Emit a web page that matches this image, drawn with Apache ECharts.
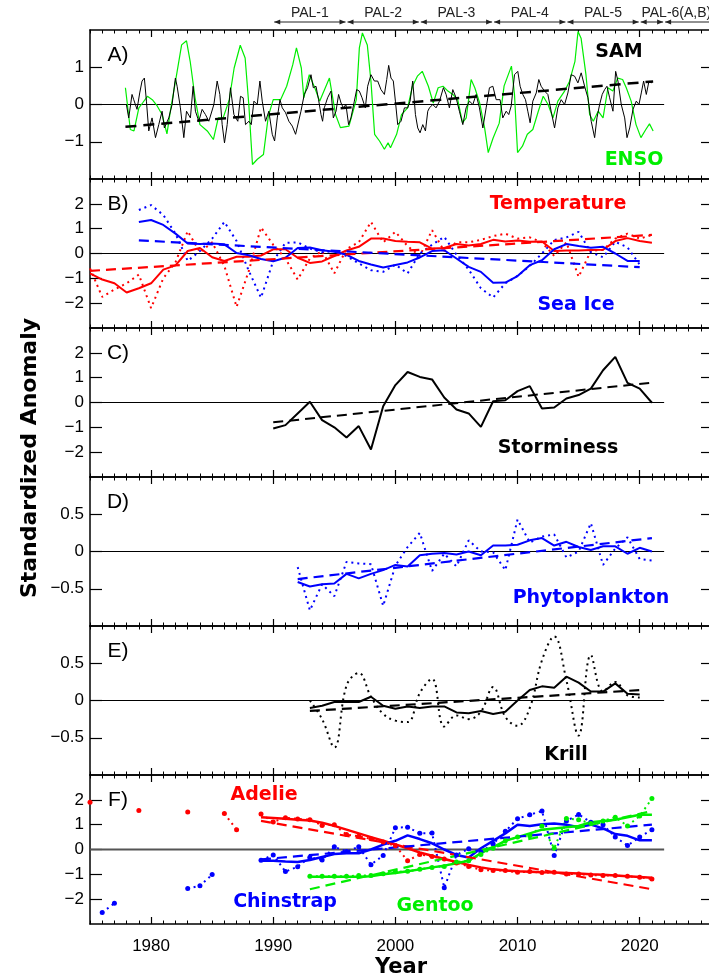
<!DOCTYPE html>
<html lang="en">
<head>
<meta charset="UTF-8">
<title>Standardized anomalies, Palmer LTER</title>
<style>
  html, body { margin: 0; padding: 0; overflow: hidden; background: #fff; }
  #main { width: 720px; height: 980px; }
</style>
</head>
<body>
<div id="main"></div>
<script src="https://cdn.jsdelivr.net/npm/echarts@6.0.0/dist/echarts.min.js"></script>
<script>
// ---- axis data ----
var yearMin = 1975, yearMax = 2026, zeroEnd = 2022;
var decadeTicks = [1980, 1990, 2000, 2010, 2020];
var ticksA = [-1, 0, 1];
var ticksBig = [-2, -1, 0, 1, 2];
var ticksSmall = [-0.5, 0, 0.5];
var panelRanges = [2, 3, 3, 1, 1, 3];
var panelTicks = [ticksA, ticksBig, ticksBig, ticksSmall, ticksSmall, ticksBig];

// PAL grant periods
var palArrows = [[1990, 1996], [1996, 2002], [2002, 2008], [2008, 2014], [2014, 2020], [2020, 2022], [2022, 2027]];
var palLabels = [['PAL-1', 1993], ['PAL-2', 1999], ['PAL-3', 2005], ['PAL-4', 2011], ['PAL-5', 2017], ['PAL-6(A,B)', 2023]];

// ---- A) SAM and ENSO (monthly-ish, [year, value]) ----
var samSeries = [
  [1977.98,0],[1978.17,-0.36],[1978.44,0.27],[1978.58,0.13],[1978.85,-0.13],[1979.07,0.31],[1979.26,0.63],[1979.45,0.71],
  [1979.62,0.09],[1979.81,-0.71],[1980.08,-0.36],[1980.36,-0.89],[1980.63,-0.54],[1980.9,-0.18],[1981.09,-0.63],[1981.45,-0.36],
  [1981.72,0],[1981.99,0.71],[1982.13,0.49],[1982.4,-0.09],[1982.68,-0.89],[1982.9,-0.18],[1983.22,-0.36],[1983.44,0.49],
  [1983.63,-0.18],[1983.91,-0.45],[1984.18,-0.13],[1984.45,-0.27],[1984.73,-0.45],[1985.14,0],[1985.41,0.63],[1985.63,0.27],
  [1985.82,-0.54],[1986.01,-1.03],[1986.23,-0.54],[1986.5,0.45],[1986.78,-0.27],[1987.1,-0.45],[1987.32,0.22],[1987.54,0.18],
  [1987.73,-0.54],[1988.01,-0.45],[1988.2,-0.54],[1988.42,0.09],[1988.69,0],[1988.91,0.63],[1989.1,0.09],[1989.37,-0.45],
  [1989.64,-0.18],[1989.92,-0.8],[1990.11,-0.98],[1990.33,-0.36],[1990.55,0.13],[1990.74,-0.09],[1991.01,-0.22],[1991.28,-0.45],
  [1991.56,-0.58],[1991.83,-0.8],[1992.27,-0.18],[1992.54,0.27],[1992.81,0.45],[1993.09,0.8],[1993.28,0.45],[1993.5,0.49],
  [1993.71,0.13],[1993.91,-0.27],[1994.04,-0.45],[1994.18,-0.09],[1994.45,0.18],[1994.73,0.36],[1994.92,-0.36],[1995.14,-0.18],
  [1995.35,0.27],[1995.55,0.04],[1995.74,-0.09],[1995.95,0],[1996.17,-0.54],[1996.36,-0.36],[1996.64,0.09],[1996.83,0.4],
  [1997.05,0.36],[1997.27,0.18],[1997.54,-0.09],[1997.73,0.49],[1998,0.8],[1998.28,0.63],[1998.55,0.63],[1998.82,0.4],
  [1999.1,0.27],[1999.29,0.67],[1999.45,1.05],[1999.64,0.71],[1999.83,0.63],[2000,0.09],[2000.19,-0.54],[2000.46,-0.45],
  [2000.74,-0.09],[2001.01,-0.09],[2001.2,0.09],[2001.42,0.63],[2001.64,-0.27],[2001.83,-0.63],[2002.02,-0.76],[2002.24,-0.54],
  [2002.46,-0.71],[2002.65,-0.18],[2002.79,-0.09],[2003.06,0],[2003.33,-0.09],[2003.61,0.09],[2003.93,0.45],[2004.15,0.27],
  [2004.42,-0.09],[2004.7,0.4],[2004.97,0.18],[2005.24,-0.18],[2005.52,-0.54],[2005.79,-0.09],[2006.06,0.09],[2006.34,0],
  [2006.61,0.27],[2006.88,-0.09],[2007.16,-0.63],[2007.43,-0.09],[2007.7,0.45],[2007.98,0.49],[2008.25,0.13],[2008.57,0.13],
  [2008.79,-0.36],[2009.07,-0.18],[2009.28,-0.27],[2009.48,-0.04],[2009.75,0.8],[2010.02,0.89],[2010.21,0.49],[2010.43,0.27],
  [2010.65,0.13],[2010.84,-0.18],[2011.03,-0.49],[2011.25,0.09],[2011.53,0.31],[2011.74,0.67],[2011.93,0.49],[2012.21,0.36],
  [2012.48,0.27],[2012.75,-0.18],[2013.03,-0.63],[2013.3,-0.09],[2013.57,0.13],[2013.85,0],[2014.12,0.31],[2014.39,0.8],
  [2014.67,0.76],[2014.94,0.58],[2015.21,0.85],[2015.49,0.49],[2015.76,0.18],[2016.03,-0.45],[2016.31,-0.89],[2016.5,-0.36],
  [2016.72,0],[2016.93,0.27],[2017.13,0.4],[2017.32,0.49],[2017.54,0.18],[2017.81,-0.18],[2018.03,0.89],[2018.22,0.63],
  [2018.49,0],[2018.77,-0.36],[2018.96,-0.89],[2019.18,-0.63],[2019.45,-0.13],[2019.72,0.09],[2019.94,0],[2020.13,0.31],
  [2020.32,0.63],[2020.54,0.27],[2020.76,0.63],[2020.95,0.58],[2021.08,0.63]
];
var samTrend = [[1977.9, -0.6], [2021.1, 0.62]];
var ensoSeries = [
  [1977.9,0.45],[1978.3,-0.67],[1978.6,-0.71],[1979.0,-0.09],[1979.3,0.04],[1979.7,0.22],[1980.1,0.13],[1980.5,-0.04],
  [1980.9,-0.27],[1981.3,-0.79],[1981.6,-0.13],[1982.0,0.63],[1982.5,1.6],[1982.9,1.71],[1983.2,1.16],[1983.6,0.18],
  [1984.0,-0.54],[1984.6,-0.71],[1985.1,-0.94],[1985.5,-0.36],[1985.9,-0.36],[1986.4,0.13],[1986.8,0.98],[1987.3,1.59],
  [1987.7,1.25],[1988.0,0.0],[1988.3,-1.61],[1988.7,-1.47],[1989.2,-1.34],[1989.6,-0.31],[1990.0,0.13],[1990.6,0.13],
  [1991.1,0.49],[1991.6,1.07],[1991.9,1.52],[1992.3,0.98],[1992.5,0.18],[1992.95,0.8],[1993.4,0.45],[1993.8,0.09],
  [1994.6,0.71],[1995.1,-0.27],[1995.5,-0.62],[1996.2,-0.58],[1996.8,0.13],[1997.05,1.52],[1997.3,1.92],[1997.7,1.6],
  [1998.0,0.62],[1998.3,-0.8],[1998.7,-0.98],[1999.1,-1.2],[1999.4,-1.03],[1999.6,-1.16],[2000.1,-0.8],[2000.5,-0.27],
  [2001.0,-0.09],[2001.4,0.49],[2001.8,0.76],[2002.2,0.89],[2002.7,0.49],[2003.1,0.04],[2003.5,0.45],[2003.9,0.49],
  [2004.3,0.36],[2004.7,0.27],[2005.1,0.13],[2005.5,-0.49],[2005.8,-0.36],[2006.2,0.67],[2006.5,0.45],[2006.9,0.04],
  [2007.3,-0.62],[2007.6,-1.29],[2008.0,-0.9],[2008.5,-0.5],[2008.9,0.5],[2009.5,1.03],[2009.75,0.27],[2010.0,-1.29],
  [2010.4,-1.12],[2010.8,-0.8],[2011.25,-0.67],[2011.7,-0.18],[2012.1,0.22],[2012.5,0.0],[2012.9,-0.36],[2013.3,0.09],
  [2013.85,0.36],[2014.25,0.62],[2014.7,1.16],[2014.95,1.96],[2015.2,1.78],[2015.6,0.8],[2015.9,-0.27],[2016.2,-0.45],
  [2016.6,-0.18],[2017.0,-0.36],[2017.4,0.45],[2017.8,0.36],[2018.2,0.71],[2018.6,0.67],[2018.9,0.45],[2019.3,0.09],
  [2019.7,-0.54],[2020.1,-0.89],[2020.5,-0.67],[2020.8,-0.52],[2021.1,-0.71]
];

// ---- B) Temperature and Sea Ice (annual) ----
var tempStart = 1975;
var tempRaw = [-0.6,-1.75,-1.45,-1.2,-0.85,-2.2,-1.0,-0.35,0.9,0.05,0.45,-0.5,-2.15,-0.7,1.05,0.35,-0.2,-1.05,-0.2,0.1,
  -0.8,0.18,0.45,1.27,0.45,0.87,0.3,-0.1,0.94,0.1,0.45,0.45,0.55,0.7,0.8,0.6,0.65,0.45,-0.1,0.45,-0.94,0.1,0.15,0.6,0.8,0.6,0.75];
var tempSmooth = [-0.8,-1.05,-1.2,-1.57,-1.4,-1.2,-0.65,-0.48,0.1,0.22,-0.15,-0.3,-0.13,-0.13,-0.08,0.17,0.17,-0.17,-0.38,-0.32,
  -0.1,0.12,0.27,0.6,0.6,0.5,0.47,0.45,0.2,0.22,0.38,0.32,0.38,0.55,0.48,0.52,0.47,0.48,0.1,0.12,0.12,0.14,0.15,0.5,0.62,0.5,0.43];
var tempTrend = [[1975, -0.7], [2021, 0.75]];
var iceStart = 1979;
var iceRaw = [1.75,1.95,1.55,0.8,-0.3,0.1,0.6,1.27,0.5,-0.7,-1.78,-0.3,0.43,0.45,0.2,0.05,0.1,-0.1,-0.4,-0.67,
  -0.74,-0.45,-0.8,0.0,0.35,0.67,-0.05,-0.65,-1.4,-1.77,-1.2,-0.9,-0.5,0.0,0.54,0.65,0.87,0.05,-0.15,0.47,0.25,-0.45];
var iceSmooth = [1.27,1.35,1.15,0.8,0.4,0.38,0.4,0.37,0.02,-0.07,-0.22,-0.31,-0.17,0.22,0.24,0.13,0.07,-0.05,-0.3,-0.44,
  -0.56,-0.46,-0.36,-0.16,0.1,0.13,-0.2,-0.54,-0.74,-1.18,-1.17,-0.91,-0.47,-0.27,0.17,0.38,0.3,0.23,0.27,0.0,-0.3,-0.3];
var iceTrend = [[1979, 0.53], [2020, -0.55]];

// ---- C) Storminess ----
var stormStart = 1990;
var storm = [-1.05,-0.91,-0.44,0.03,-0.71,-1.0,-1.41,-0.95,-1.89,-0.15,0.7,1.23,1.03,0.93,0.2,-0.28,-0.44,-0.98,0.05,0.09,
  0.46,0.66,-0.24,-0.2,0.16,0.3,0.56,1.3,1.84,0.79,0.56,-0.01];
var stormTrend = [[1990, -0.8], [2021, 0.8]];

// ---- D) Phytoplankton ----
var phytoStart = 1992;
var phytoRaw = [-0.21,-0.79,-0.44,-0.6,-0.14,-0.16,-0.17,-0.73,-0.19,0.06,0.25,-0.26,-0.03,-0.2,0.15,0.0,-0.01,-0.25,0.43,0.12,
  0.2,0.23,-0.08,0.0,0.38,-0.18,0.04,0.19,-0.1,-0.12];
var phytoSmooth = [-0.41,-0.47,-0.44,-0.43,-0.3,-0.36,-0.3,-0.25,-0.18,-0.2,-0.05,-0.03,-0.02,-0.04,0.0,-0.05,0.08,0.08,0.09,0.15,
  0.18,0.08,0.13,0.06,0.02,0.07,0.07,-0.03,0.05,0.0];
var phytoTrend = [[1992, -0.37], [2021, 0.18]];

// ---- E) Krill ----
var krillStart = 1993;
var krillRaw = [0.0,-0.25,-0.63,0.2,0.37,0.05,-0.18,-0.27,-0.29,0.1,0.29,-0.35,-0.2,-0.25,-0.15,0.18,-0.22,-0.34,-0.1,0.54,
  0.86,0.27,-0.47,0.61,0.12,0.25,0.07,0.04];
var krillSmooth = [-0.1,-0.07,-0.02,-0.02,-0.02,0.05,-0.07,-0.11,-0.08,-0.1,-0.08,-0.08,-0.16,-0.17,-0.14,-0.18,-0.15,0.0,0.14,0.19,
  0.17,0.32,0.24,0.12,0.12,0.23,0.09,0.08];
var krillTrend = [[1993, -0.14], [2020, 0.14]];

// ---- F) Penguins ----
var adelieStart = 1975;
var adelieRaw = [1.9,null,null,null,1.57,null,null,null,1.51,null,null,1.45,0.8,null,1.43,1.11,1.28,1.23,1.2,0.97,
  1.0,0.6,0.53,0.43,0.3,0.15,-0.45,-0.2,-0.28,-0.38,-0.54,-0.68,-0.82,-0.85,-0.85,-0.92,-0.89,-0.93,-0.92,-0.99,
  -0.99,-1.03,-1.05,-1.05,-1.08,-1.12,-1.19];
var adelieSmoothStart = 1989;
var adelieSmooth = [1.3,1.27,1.24,1.2,1.17,1.08,0.95,0.8,0.65,0.5,0.35,0.2,0.05,-0.12,-0.25,-0.38,-0.5,-0.62,-0.72,-0.8,
  -0.85,-0.88,-0.9,-0.92,-0.93,-0.95,-0.97,-1.0,-1.02,-1.05,-1.08,-1.11,-1.14];
var adelieTrend = [[1989, 1.15], [2021, -1.6]];
var chinStart = 1975;
var chinRaw = [null,-2.54,-2.16,null,null,null,null,null,-1.57,-1.46,-1.01,null,null,null,-0.43,-0.22,-0.89,-0.69,-0.31,-0.42,
  0.11,-0.08,0.11,-0.61,-0.24,0.88,0.9,0.65,0.66,-1.54,-0.22,0.03,-0.1,0.23,0.73,1.24,1.4,1.55,-0.24,1.15,
  1.41,1.1,1.0,0.5,0.16,0.5,0.8];
var chinSmoothStart = 1989;
var chinSmooth = [-0.45,-0.45,-0.48,-0.5,-0.42,-0.3,-0.18,-0.15,-0.15,0.0,0.2,0.35,0.57,0.42,0.25,0.0,-0.22,-0.32,0.05,0.35,
  0.65,1.0,0.95,1.02,1.05,1.0,0.9,1.0,0.85,0.62,0.55,0.37,0.37];
var chinTrend = [[1989, -0.4], [2021, 1.0]];
var gentooStart = 1993;
var gentooRaw = [-1.08,-1.08,-1.08,-1.08,-1.05,-1.05,-0.98,-0.9,-0.88,-0.8,-0.72,-0.68,-0.5,-0.45,-0.2,0.05,0.35,0.5,0.55,0.95,
  0.05,1.25,1.2,1.05,1.15,1.3,0.95,1.35,2.05];
var gentooSmooth = [-1.1,-1.1,-1.1,-1.1,-1.1,-1.08,-1.0,-0.95,-0.88,-0.8,-0.72,-0.65,-0.55,-0.45,-0.15,0.1,0.35,0.5,0.65,0.8,
  0.85,0.9,0.95,1.1,1.15,1.2,1.3,1.4,1.4];
var gentooTrend = [[1993, -1.6], [2021, 1.55]];

// ---- styles ----
var RED = '#ff0000', BLUE = '#0000ff', GREEN = '#00ee00', BLACK = '#000000';
var labelFont = 'bold 19px "DejaVu Sans", sans-serif';
var tickText = { fontFamily: '"Liberation Sans", Arial, sans-serif', fontSize: 17, color: '#000' };
var DOT = [2, 4], DASH = [10, 6];

function annual(start, vals) {
  return vals.map(function (v, k) { return [start + k, v === null ? '-' : v]; });
}
function minus(v) { return String(v).replace('-', '\u2212'); }

var tops = [30, 179, 328, 477, 626, 775], H = 149;
var grids = [], xAxes = [], yAxes = [], series = [];
var mainX = [], mainY = [];

panelTicks.forEach(function (ticks, i) {
  // main grid: box, decade ticks, y ticks, labels
  var g = grids.length;
  grids.push({ left: 90, right: 7, top: tops[i], height: H });
  mainX.push(xAxes.length);
  ['bottom', 'top'].forEach(function (pos) {
    xAxes.push({
      type: 'value', gridIndex: g, position: pos, min: yearMin, max: yearMax,
      axisLine: { show: true, onZero: false, lineStyle: { color: '#000', width: 1.5 } },
      axisTick: { show: true, inside: true, length: 7, customValues: decadeTicks, lineStyle: { color: '#000', width: 1.2 } },
      axisLabel: Object.assign({ show: pos === 'bottom' && i === 5, customValues: decadeTicks, margin: 14,
        formatter: function (v) { return String(v); } }, tickText),
      splitLine: { show: false }
    });
  });
  mainY.push(yAxes.length);
  ['left', 'right'].forEach(function (pos) {
    yAxes.push({
      type: 'value', gridIndex: g, position: pos, min: -panelRanges[i], max: panelRanges[i],
      axisLine: { show: true, onZero: false, lineStyle: { color: '#000', width: 1.5 } },
      axisTick: { show: true, inside: true, length: 12, customValues: ticks, lineStyle: { color: '#000', width: 1.2 } },
      axisLabel: Object.assign({ show: pos === 'left', customValues: ticks, margin: 6, formatter: minus }, tickText),
      splitLine: { show: false }
    });
  });
  // overlay grid on the same box: yearly minor ticks top and bottom
  var o = grids.length;
  grids.push({ left: 90, right: 7, top: tops[i], height: H });
  ['bottom', 'top'].forEach(function (pos) {
    xAxes.push({
      type: 'value', gridIndex: o, position: pos, min: yearMin, max: yearMax, interval: 1,
      axisLine: { show: false, onZero: false },
      axisTick: { show: true, inside: true, length: 3.5, lineStyle: { color: '#000', width: 1 } },
      axisLabel: { show: false }, splitLine: { show: false }
    });
  });
  yAxes.push({ type: 'value', gridIndex: o, min: -1, max: 1, show: false });
});

// PAL strip above panel A
var palGrid = grids.length;
grids.push({ left: 90, right: 7, top: 0, height: 30 });
var palX = xAxes.length, palY = yAxes.length;
xAxes.push({ type: 'value', gridIndex: palGrid, min: yearMin, max: yearMax, show: false });
yAxes.push({ type: 'value', gridIndex: palGrid, min: 0, max: 30, show: false });

function line(i, data, color, width, type, extra) {
  return Object.assign({
    type: 'line', xAxisIndex: mainX[i], yAxisIndex: mainY[i], data: data, showSymbol: false,
    silent: true, animation: false, connectNulls: false,
    lineStyle: { color: color, width: width, type: type }, itemStyle: { color: color }
  }, extra || {});
}

// zero lines
for (var p = 0; p < 6; p++) {
  series.push(line(p, [[yearMin, 0], [zeroEnd, 0]], p === 5 ? '#555' : BLACK, p === 5 ? 2 : 1, 'solid'));
}

// A
series.push(line(0, ensoSeries, GREEN, 1.2, 'solid'));
series.push(line(0, samSeries, BLACK, 1, 'solid'));
series.push(line(0, samTrend, BLACK, 2.5, [11, 7]));

// B
series.push(line(1, annual(tempStart, tempRaw), RED, 2, DOT));
series.push(line(1, annual(iceStart, iceRaw), BLUE, 2, DOT));
series.push(line(1, annual(tempStart, tempSmooth), RED, 2, 'solid'));
series.push(line(1, annual(iceStart, iceSmooth), BLUE, 2, 'solid'));
series.push(line(1, tempTrend, RED, 2.2, DASH));
series.push(line(1, iceTrend, BLUE, 2.2, DASH));

// C
series.push(line(2, annual(stormStart, storm), BLACK, 2, 'solid'));
series.push(line(2, stormTrend, BLACK, 2, DASH));

// D
series.push(line(3, annual(phytoStart, phytoRaw), BLUE, 2, DOT));
series.push(line(3, annual(phytoStart, phytoSmooth), BLUE, 2, 'solid'));
series.push(line(3, phytoTrend, BLUE, 2.2, DASH));

// E
series.push(line(4, annual(krillStart, krillRaw), BLACK, 2, DOT, { smooth: 0.4 }));
series.push(line(4, annual(krillStart, krillSmooth), BLACK, 2, 'solid'));
series.push(line(4, krillTrend, BLACK, 2.2, DASH));

// F
var dots = { showSymbol: true, symbol: 'circle', symbolSize: 5 };
series.push(line(5, annual(adelieStart, adelieRaw), RED, 2, DOT, dots));
series.push(line(5, annual(chinStart, chinRaw), BLUE, 2, DOT, dots));
series.push(line(5, annual(gentooStart, gentooRaw), GREEN, 2, DOT, dots));
series.push(line(5, annual(adelieSmoothStart, adelieSmooth), RED, 2.5, 'solid'));
series.push(line(5, annual(chinSmoothStart, chinSmooth), BLUE, 2.5, 'solid'));
series.push(line(5, annual(gentooStart, gentooSmooth), GREEN, 2.5, 'solid'));
series.push(line(5, adelieTrend, RED, 2.2, DASH));
series.push(line(5, chinTrend, BLUE, 2.2, DASH));
series.push(line(5, gentooTrend, GREEN, 2.2, DASH));

// PAL arrows and labels
series.push({
  type: 'custom', xAxisIndex: palX, yAxisIndex: palY, clip: false, silent: true, animation: false,
  data: palArrows,
  renderItem: function (params, api) {
    var a = api.coord([api.value(0), 8]), b = api.coord([api.value(1), 8]);
    var y = a[1], x1 = a[0] + 1, x2 = b[0] - 1;
    return { type: 'group', children: [
      { type: 'line', shape: { x1: x1, y1: y, x2: x2, y2: y }, style: { stroke: '#222', lineWidth: 1 } },
      { type: 'polygon', shape: { points: [[x1, y], [x1 + 6, y - 2.5], [x1 + 6, y + 2.5]] }, style: { fill: '#222' } },
      { type: 'polygon', shape: { points: [[x2, y], [x2 - 6, y - 2.5], [x2 - 6, y + 2.5]] }, style: { fill: '#222' } }
    ] };
  }
});
series.push({
  type: 'custom', xAxisIndex: palX, yAxisIndex: palY, clip: false, silent: true, animation: false,
  data: palLabels.map(function (d) { return [d[1], 17]; }),
  renderItem: function (params, api) {
    var c = api.coord([api.value(0), api.value(1)]);
    return { type: 'text', x: c[0], y: c[1], style: {
      text: palLabels[params.dataIndex][0], align: 'center', verticalAlign: 'middle',
      textAlign: 'center', textVerticalAlign: 'middle',
      font: '14px "Liberation Sans", Arial, sans-serif', fill: '#222' } };
  }
});

// text annotations
function txt(s, x, y, font, color, extra) {
  return Object.assign({ type: 'text', x: x, y: y, silent: true, style: {
    text: s, font: font, fill: color, align: 'center', verticalAlign: 'middle',
    textAlign: 'center', textVerticalAlign: 'middle' } }, extra || {});
}
var letterFont = '21px "Liberation Sans", Arial, sans-serif';
var graphics = [
  txt('A)', 118, 55, letterFont, BLACK), txt('B)', 118, 204, letterFont, BLACK),
  txt('C)', 118, 353, letterFont, BLACK), txt('D)', 118, 502, letterFont, BLACK),
  txt('E)', 118, 651, letterFont, BLACK), txt('F)', 118, 800, letterFont, BLACK),
  txt('SAM', 619, 52, labelFont, BLACK), txt('ENSO', 634, 160, labelFont, GREEN),
  txt('Temperature', 558, 204, labelFont, RED), txt('Sea Ice', 576, 305, labelFont, BLUE),
  txt('Storminess', 558, 448, labelFont, BLACK), txt('Phytoplankton', 591, 598, labelFont, BLUE),
  txt('Krill', 566, 755, labelFont, BLACK), txt('Adelie', 264, 795, labelFont, RED),
  txt('Chinstrap', 285, 902, labelFont, BLUE), txt('Gentoo', 435, 906, labelFont, GREEN),
  txt('Year', 401, 968, 'bold 21px "DejaVu Sans", sans-serif', BLACK),
  txt('Standardized Anomaly', 30, 458, 'bold 22px "DejaVu Sans", sans-serif', BLACK, { rotation: Math.PI / 2 })
];

var chart = echarts.init(document.getElementById('main'));
chart.setOption({
  animation: false,
  backgroundColor: '#fff',
  grid: grids,
  xAxis: xAxes,
  yAxis: yAxes,
  series: series,
  graphic: graphics
});
</script>
</body>
</html>
